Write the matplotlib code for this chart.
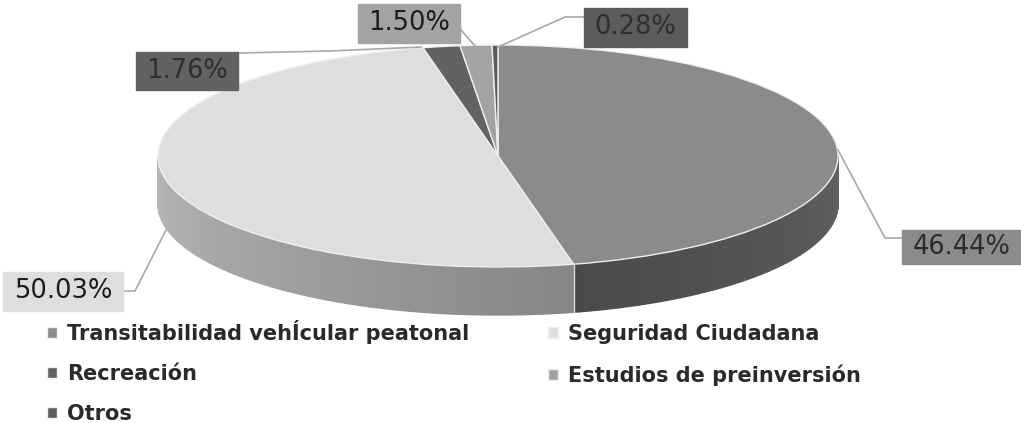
import matplotlib
matplotlib.use("Agg")
import matplotlib.pyplot as plt
import numpy as np
from matplotlib.colors import to_rgb
from matplotlib.patches import Polygon

categories = [
    "Transitabilidad vehÍcular peatonal",
    "Seguridad Ciudadana",
    "Recreación",
    "Estudios de preinversión",
    "Otros",
]
values = [46.44, 50.03, 1.76, 1.50, 0.28]
value_labels = ["46.44%", "50.03%", "1.76%", "1.50%", "0.28%"]
top_colors = ["#8b8b8b", "#dedede", "#626262", "#a3a3a3", "#5c5c5c"]
label_text_colors = ["#2c2c2c", "#1c1c1c", "#2f2f2f", "#1c1c1c", "#2f2f2f"]

# pixel geometry of the pie
W, H = 1021, 423
CX, CY, RX, RY = 498.0, 156.0, 340.0, 111.0
DEPTH = 48.0

# label box (x0, y0, x1, y1) and leader line, in image pixels
label_boxes = [
    (902, 230, 1021, 264),
    (3, 272, 123, 311),
    (136, 52, 238, 90),
    (358, 4, 460, 43),
    (584, 8, 687, 47),
]
leaders = [
    [(902, 238), (885, 238), (838, 150)],
    [(123, 291), (135, 291), (166, 230)],
    [(238, 53), (330, 51), (421, 47)],
    [(461, 30), (476, 47)],
    [(584, 17), (565, 17), (498, 47)],
]


def to_data(px, py):
    return (px - CX) / RX, (CY - py) / RY


def draw_wall(ax, start, end, color_a, color_b):
    """Side wall of one slice between two angles (deg), shaded along the arc."""
    lo, hi = max(start, -180.0), min(end, 0.0)
    if hi <= lo:
        return
    steps = np.linspace(lo, hi, 80)
    ca, cb = np.array(to_rgb(color_a)), np.array(to_rgb(color_b))
    dz = DEPTH / RY
    for i in range(len(steps) - 1):
        t1, t2 = np.radians(steps[i]), np.radians(steps[i + 1])
        f = i / (len(steps) - 2)
        col = ca + (cb - ca) * f
        pts = [
            (np.cos(t1), np.sin(t1)),
            (np.cos(t2), np.sin(t2)),
            (np.cos(t2), np.sin(t2) - dz),
            (np.cos(t1), np.sin(t1) - dz),
        ]
        ax.add_patch(Polygon(pts, closed=True, fc=col, ec=col, lw=1.0, zorder=1))


fig = plt.figure(figsize=(W / 100, H / 100), dpi=100)
ax = fig.add_axes([0, 0, 1, 1])

wedges, _ = ax.pie(
    values,
    colors=top_colors,
    startangle=90,
    counterclock=False,
    radius=1.0,
    wedgeprops={"edgecolor": "#efefef", "linewidth": 1.0, "zorder": 3},
)
ax.set_aspect("auto")
ax.set_xlim(-CX / RX, (W - CX) / RX)
ax.set_ylim((CY - H) / RY, CY / RY)
ax.axis("off")

edges = 90.0 - 360.0 * np.cumsum(values) / np.sum(values)
draw_wall(ax, edges[0], 90.0, "#4a4a4a", "#606060")
draw_wall(ax, edges[1], edges[0], "#b8b8b8", "#868686")

# pale seam where the two visible walls meet
seam = np.radians(edges[0])
ax.plot(
    [np.cos(seam)] * 2,
    [np.sin(seam), np.sin(seam) - DEPTH / RY],
    color="#d8d8d8",
    lw=1.0,
    zorder=2,
)

for pts in leaders:
    xy = np.array([to_data(*p) for p in pts])
    ax.plot(xy[:, 0], xy[:, 1], color="#a8a8a8", lw=1.2, zorder=4)

for i, text in enumerate(value_labels):
    x0, y0, x1, y1 = label_boxes[i]
    bx0, by0 = to_data(x0, y1)
    bx1, by1 = to_data(x1, y0)
    ax.fill(
        [bx0, bx1, bx1, bx0],
        [by0, by0, by1, by1],
        color=top_colors[i],
        zorder=5,
    )
    tx, ty = to_data((x0 + x1) / 2, (y0 + y1) / 2)
    ax.text(
        tx, ty, text, ha="center", va="center", fontsize=18.5,
        color=label_text_colors[i], zorder=6,
    )

order = [0, 2, 4, 1, 3]
fig.legend(
    [wedges[i] for i in order],
    [categories[i] for i in order],
    ncol=2,
    loc="upper left",
    bbox_to_anchor=(41 / W, 1 - 314 / H),
    frameon=False,
    prop={"family": "DejaVu Sans", "weight": "bold", "size": 15},
    labelcolor="#2a2a2a",
    handlelength=0.45,
    handleheight=0.45,
    handletextpad=0.5,
    labelspacing=0.95,
    columnspacing=3.8,
    borderpad=0.3,
    borderaxespad=0,
)

fig.savefig("out.png", dpi=100)
